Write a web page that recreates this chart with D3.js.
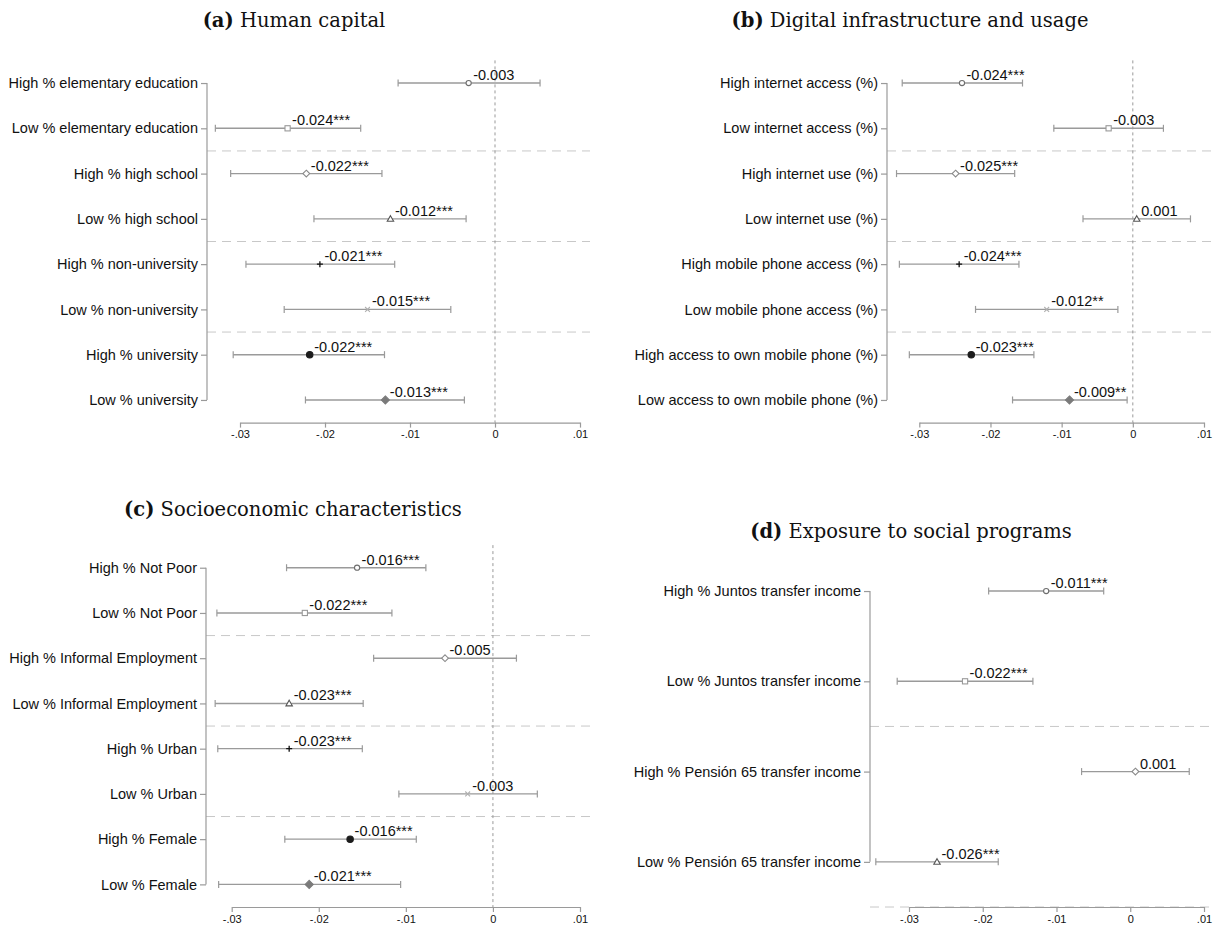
<!DOCTYPE html>
<html>
<head>
<meta charset="utf-8">
<script src="https://cdn.jsdelivr.net/npm/d3@7"></script>
<style>
  html, body { margin: 0; padding: 0; background: #fff; }
  svg { display: block; }
</style>
</head>
<body>
<svg id="chart" width="1217" height="929"></svg>
<script>
// ---- Data: coefficient, 95% CI bounds and significance stars per panel ----
const ticks = [-0.03, -0.02, -0.01, 0, 0.01];
const tickLabels = ["-.03", "-.02", "-.01", "0", ".01"];

const humanLabels = [
  "High % elementary education", "Low % elementary education",
  "High % high school", "Low % high school",
  "High % non-university", "Low % non-university",
  "High % university", "Low % university"
];
const humanCoef = [-0.0031, -0.0244, -0.0222, -0.0123, -0.0206, -0.0150, -0.0218, -0.0129];
const humanLo   = [-0.0114, -0.0329, -0.0311, -0.0213, -0.0293, -0.0248, -0.0308, -0.0223];
const humanHi   = [ 0.0053, -0.0158, -0.0133, -0.0034, -0.0118, -0.0052, -0.0130, -0.0036];
const humanStars = ["", "***", "***", "***", "***", "***", "***", "***"];

const digitalLabels = [
  "High internet access (%)", "Low internet access (%)",
  "High internet use (%)", "Low internet use (%)",
  "High mobile phone access (%)", "Low mobile phone access (%)",
  "High access to own mobile phone (%)", "Low access to own mobile phone (%)"
];
const digitalCoef = [-0.0240, -0.0034, -0.0249, 0.00055, -0.0244, -0.0121, -0.0227, -0.0089];
const digitalLo   = [-0.0324, -0.0111, -0.0332, -0.0070, -0.0328, -0.0221, -0.0314, -0.0169];
const digitalHi   = [-0.0155,  0.0043, -0.0166,  0.0081, -0.0160, -0.0021, -0.0139, -0.0008];
const digitalStars = ["***", "", "***", "", "***", "**", "***", "**"];

const socioLabels = [
  "High % Not Poor", "Low % Not Poor",
  "High % Informal Employment", "Low % Informal Employment",
  "High % Urban", "Low % Urban",
  "High % Female", "Low % Female"
];
const socioCoef = [-0.0156, -0.0216, -0.0055, -0.0234, -0.0234, -0.0029, -0.0164, -0.0211];
const socioLo   = [-0.0237, -0.0317, -0.0137, -0.0319, -0.0316, -0.0108, -0.0239, -0.0315];
const socioHi   = [-0.0077, -0.0116,  0.0027, -0.0149, -0.0150,  0.0051, -0.0088, -0.0106];
const socioStars = ["***", "***", "", "***", "***", "", "***", "***"];

const socialLabels = [
  "High % Juntos transfer income", "Low % Juntos transfer income",
  "High % Pensión 65 transfer income", "Low % Pensión 65 transfer income"
];
const socialCoef = [-0.0114, -0.0224, 0.0007, -0.0262];
const socialLo   = [-0.0192, -0.0316, -0.0066, -0.0345];
const socialHi   = [-0.0036, -0.0132,  0.0080, -0.0179];
const socialStars = ["***", "***", "", "***"];

// ---- Marker styles, cycled by row ----
const markerStyles = [
  { shape: "circle",   fill: "#fff",    stroke: "#6e6e6e", size: 2.6 },
  { shape: "square",   fill: "#fff",    stroke: "#9a9a9a", size: 2.6 },
  { shape: "diamond",  fill: "#fff",    stroke: "#8a8a8a", size: 3.4 },
  { shape: "triangle", fill: "#fff",    stroke: "#555",    size: 3.2 },
  { shape: "plus",     fill: "none",    stroke: "#111",    size: 3.0 },
  { shape: "x",        fill: "none",    stroke: "#b0b0b0", size: 2.4 },
  { shape: "circle",   fill: "#1c1c1c", stroke: "#1c1c1c", size: 3.2 },
  { shape: "diamond",  fill: "#7a7a7a", stroke: "#7a7a7a", size: 4.0 }
];

// ---- Panel layout ----
const panels = [
  { tag: "(a)", title: " Human capital", titleX: 294, titleY: 27,
    labels: humanLabels, coef: humanCoef, lo: humanLo, hi: humanHi, stars: humanStars,
    xAt: [240, 580], axisX: 207, right: 590, top: 60.4, bottom: 422.6,
    separators: [2.5, 4.5, 6.5], zeroLine: true },
  { tag: "(b)", title: " Digital infrastructure and usage", titleX: 910, titleY: 27,
    labels: digitalLabels, coef: digitalCoef, lo: digitalLo, hi: digitalHi, stars: digitalStars,
    xAt: [919.3, 1204], axisX: 887, right: 1214, top: 60.4, bottom: 422.6,
    separators: [2.5, 4.5, 6.5], zeroLine: true },
  { tag: "(c)", title: " Socioeconomic characteristics", titleX: 293, titleY: 516,
    labels: socioLabels, coef: socioCoef, lo: socioLo, hi: socioHi, stars: socioStars,
    xAt: [231.7, 580], axisX: 206, right: 590, top: 545.1, bottom: 907,
    separators: [2.5, 4.5, 6.5], zeroLine: true },
  { tag: "(d)", title: " Exposure to social programs", titleX: 911, titleY: 538,
    labels: socialLabels, coef: socialCoef, lo: socialLo, hi: socialHi, stars: socialStars,
    xAt: [909, 1204], axisX: 870, right: 1214, top: 545.9, bottom: 907,
    separators: [2.5, 4.5], zeroLine: false }
];

const fmt = d3.formatLocale({ decimal: ".", thousands: ",", grouping: [3], currency: ["", ""], minus: "-" }).format(".3f");

const svg = d3.select("#chart");
svg.append("rect").attr("width", 1217).attr("height", 929).attr("fill", "#fff");

const sans = "'Liberation Sans', Arial, sans-serif";
const serif = "'DejaVu Serif', serif";
const axisColor = "#9a9a9a";
const ciColor = "#9a9a9a";

function drawMarker(g, cx, cy, st) {
  const s = st.size;
  if (st.shape === "circle") {
    g.append("circle").attr("cx", cx).attr("cy", cy).attr("r", s)
      .attr("fill", st.fill).attr("stroke", st.stroke).attr("stroke-width", 1.1);
  } else if (st.shape === "square") {
    g.append("rect").attr("x", cx - s).attr("y", cy - s).attr("width", 2 * s).attr("height", 2 * s)
      .attr("fill", st.fill).attr("stroke", st.stroke).attr("stroke-width", 1.1);
  } else if (st.shape === "diamond") {
    g.append("path").attr("d", `M${cx},${cy - s}L${cx + s},${cy}L${cx},${cy + s}L${cx - s},${cy}Z`)
      .attr("fill", st.fill).attr("stroke", st.stroke).attr("stroke-width", 1.1);
  } else if (st.shape === "triangle") {
    g.append("path").attr("d", `M${cx},${cy - s}L${cx + s},${cy + s * 0.75}L${cx - s},${cy + s * 0.75}Z`)
      .attr("fill", st.fill).attr("stroke", st.stroke).attr("stroke-width", 1.1);
  } else if (st.shape === "plus") {
    g.append("path").attr("d", `M${cx - s},${cy}H${cx + s}M${cx},${cy - s}V${cy + s}`)
      .attr("fill", "none").attr("stroke", st.stroke).attr("stroke-width", 1.3);
  } else if (st.shape === "x") {
    g.append("path").attr("d", `M${cx - s},${cy - s}L${cx + s},${cy + s}M${cx - s},${cy + s}L${cx + s},${cy - s}`)
      .attr("fill", "none").attr("stroke", st.stroke).attr("stroke-width", 1.1);
  }
}

panels.forEach(p => {
  const g = svg.append("g");
  const n = p.labels.length;
  const x = d3.scaleLinear().domain([-0.03, 0.01]).range(p.xAt);
  const y = d3.scaleLinear().domain([0.5, n + 0.5]).range([p.top, p.bottom]);

  // title
  const t = g.append("text").attr("x", p.titleX).attr("y", p.titleY)
    .attr("text-anchor", "middle").attr("font-family", serif).attr("font-size", 19.5).attr("fill", "#111");
  t.append("tspan").attr("font-weight", "bold").text(p.tag);
  t.append("tspan").text(p.title);

  // group separators
  g.selectAll("line.sep").data(p.separators).join("line").attr("class", "sep")
    .attr("x1", p.axisX).attr("x2", p.right)
    .attr("y1", d => y(d)).attr("y2", d => y(d))
    .attr("stroke", "#c8c8c8").attr("stroke-width", 1).attr("stroke-dasharray", "9,6");

  // zero reference line
  if (p.zeroLine) {
    g.append("line").attr("x1", x(0)).attr("x2", x(0)).attr("y1", p.top).attr("y2", p.bottom)
      .attr("stroke", "#999").attr("stroke-width", 1).attr("stroke-dasharray", "3,3");
  }

  // x axis
  const xAxis = d3.axisBottom(x).tickValues(ticks).tickFormat((d, i) => tickLabels[i])
    .tickSize(5).tickSizeOuter(0).tickPadding(3);
  const xg = g.append("g").attr("transform", `translate(0,${p.bottom})`).call(xAxis);
  xg.select(".domain").attr("stroke", axisColor).attr("stroke-width", 1.2);
  xg.selectAll(".tick line").attr("stroke", axisColor).attr("stroke-width", 1.2);
  xg.selectAll(".tick text").attr("font-family", sans).attr("font-size", 11).attr("fill", "#111");

  // y axis with category labels
  const rows = d3.range(1, n + 1);
  const yAxis = d3.axisLeft(y).tickValues(rows).tickFormat((d, i) => p.labels[i])
    .tickSize(6).tickSizeOuter(0).tickPadding(3);
  const yg = g.append("g").attr("transform", `translate(${p.axisX},0)`).call(yAxis);
  yg.select(".domain").attr("d", `M0,${y(1)}V${y(n)}`).attr("stroke", axisColor).attr("stroke-width", 1.2);
  yg.selectAll(".tick line").attr("stroke", axisColor).attr("stroke-width", 1.2);
  yg.selectAll(".tick text").attr("font-family", sans).attr("font-size", 14.5).attr("fill", "#111");

  // confidence intervals with end caps
  const ci = g.selectAll("g.ci").data(rows).join("g").attr("class", "ci");
  ci.append("line").attr("x1", (d, i) => x(p.lo[i])).attr("x2", (d, i) => x(p.hi[i]))
    .attr("y1", d => y(d)).attr("y2", d => y(d))
    .attr("stroke", ciColor).attr("stroke-width", 1.4);
  ci.append("line").attr("x1", (d, i) => x(p.lo[i])).attr("x2", (d, i) => x(p.lo[i]))
    .attr("y1", d => y(d) - 3.5).attr("y2", d => y(d) + 3.5)
    .attr("stroke", ciColor).attr("stroke-width", 1.2);
  ci.append("line").attr("x1", (d, i) => x(p.hi[i])).attr("x2", (d, i) => x(p.hi[i]))
    .attr("y1", d => y(d) - 3.5).attr("y2", d => y(d) + 3.5)
    .attr("stroke", ciColor).attr("stroke-width", 1.2);

  // point estimates
  rows.forEach((d, i) => drawMarker(g, x(p.coef[i]), y(d), markerStyles[i % markerStyles.length]));

  // value labels
  g.selectAll("text.val").data(rows).join("text").attr("class", "val")
    .attr("x", (d, i) => x(p.coef[i]) + 4.5).attr("y", d => y(d) - 3)
    .attr("font-family", sans).attr("font-size", 14.5).attr("fill", "#111")
    .text((d, i) => fmt(p.coef[i]) + p.stars[i]);
});
</script>
</body>
</html>
